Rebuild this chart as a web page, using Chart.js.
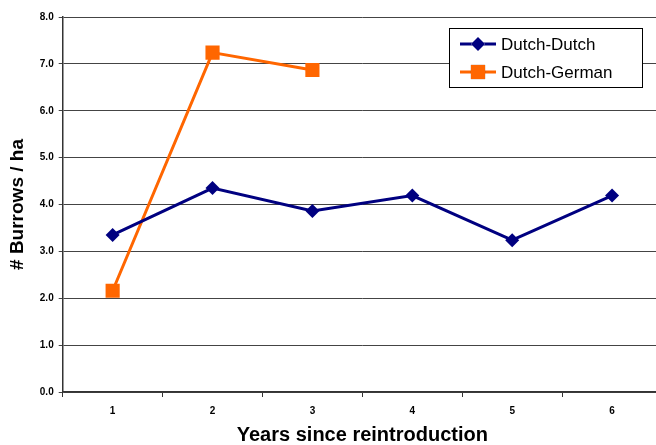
<!DOCTYPE html>
<html>
<head>
<meta charset="utf-8">
<script src="https://cdn.jsdelivr.net/npm/chart.js@4"></script>
<style>
  html, body { margin: 0; padding: 0; background: #fff; overflow: hidden; }
  #wrap { width: 672px; height: 445px; }
</style>
</head>
<body>
<div id="wrap"><canvas id="burrowsChart"></canvas></div>
<script>
// Chart data
const years = ['1', '2', '3', '4', '5', '6'];
const dutchDutch = [3.35, 4.35, 3.86, 4.19, 3.24, 4.19];
const dutchGerman = [2.16, 7.24, 6.87, null, null, null];
const yTicks = [0, 1, 2, 3, 4, 5, 6, 7, 8];

const FONT = '"Liberation Sans", Arial, sans-serif';

// legend box drawn inside the plot, like the original
const boxLegend = {
    id: 'boxLegend',
    afterDraw(chart) {
        const ctx = chart.ctx;
        const x = 449, y = 28, w = 193, h = 59;
        ctx.save();
        ctx.fillStyle = '#fff';
        ctx.fillRect(x, y, w, h);
        ctx.strokeStyle = '#000';
        ctx.lineWidth = 1;
        ctx.strokeRect(x + 0.5, y + 0.5, w, h);
        chart.data.datasets.forEach((ds, i) => {
            const cy = y + 16 + i * 28;
            ctx.strokeStyle = ds.borderColor;
            ctx.lineWidth = ds.borderWidth;
            ctx.beginPath();
            ctx.moveTo(x + 11, cy);
            ctx.lineTo(x + 47, cy);
            ctx.stroke();
            Chart.helpers.drawPoint(ctx, {
                pointStyle: ds.pointStyle,
                radius: ds.pointRadius,
                borderWidth: 0
            }, x + 29, cy);
            ctx.fillStyle = ds.pointBackgroundColor;
            ctx.fill();
            ctx.fillStyle = '#000';
            ctx.font = '17px ' + FONT;
            ctx.textBaseline = 'middle';
            ctx.fillText(ds.label, x + 52, cy + 1);
        });
        ctx.restore();
    }
};

const config = {
    type: 'line',
    data: {
        labels: years,
        datasets: [{
            label: 'Dutch-Dutch',
            data: dutchDutch,
            borderColor: '#000080',
            backgroundColor: '#000080',
            pointBackgroundColor: '#000080',
            pointBorderColor: '#000080',
            borderWidth: 3,
            pointStyle: 'rectRot',
            pointRadius: 7,
            pointBorderWidth: 0,
            tension: 0
        }, {
            label: 'Dutch-German',
            data: dutchGerman,
            borderColor: '#FF6600',
            backgroundColor: '#FF6600',
            pointBackgroundColor: '#FF6600',
            pointBorderColor: '#FF6600',
            borderWidth: 3,
            pointStyle: 'rect',
            pointRadius: 10,
            pointBorderWidth: 0,
            tension: 0,
            spanGaps: false
        }]
    },
    options: {
        responsive: true,
        maintainAspectRatio: false,
        animation: false,
        layout: { padding: { top: 17, right: 3, left: 6, bottom: 0 } },
        plugins: {
            legend: { display: false },
            tooltip: { enabled: false }
        },
        scales: {
            x: {
                offset: true,
                grid: {
                    offset: true,
                    drawOnChartArea: false,
                    drawTicks: true,
                    tickLength: 5,
                    color: '#333'
                },
                border: { color: '#333', width: 1.5 },
                ticks: {
                    color: '#000',
                    padding: 8,
                    font: { family: FONT, size: 10, weight: 'bold', lineHeight: 1.2 }
                },
                title: {
                    display: true,
                    text: 'Years since reintroduction',
                    color: '#000',
                    padding: { top: 0, bottom: 0 },
                    font: { family: FONT, size: 20, weight: 'bold', lineHeight: 1 }
                }
            },
            y: {
                min: 0,
                max: 8,
                afterBuildTicks(axis) {
                    axis.ticks = yTicks.map(v => ({ value: v }));
                },
                grid: {
                    color: '#444',
                    tickLength: 4,
                    drawTicks: true
                },
                border: { color: '#333', width: 1.5 },
                ticks: {
                    color: '#000',
                    padding: 5,
                    callback: v => v.toFixed(1),
                    font: { family: FONT, size: 10, weight: 'bold' }
                },
                title: {
                    display: true,
                    text: '# Burrows / ha',
                    color: '#000',
                    padding: { top: 0, bottom: 6 },
                    font: { family: FONT, size: 19, weight: 'bold' }
                }
            }
        }
    },
    plugins: [boxLegend]
};

const ctx = document.getElementById('burrowsChart').getContext('2d');
new Chart(ctx, config);
</script>
</body>
</html>
